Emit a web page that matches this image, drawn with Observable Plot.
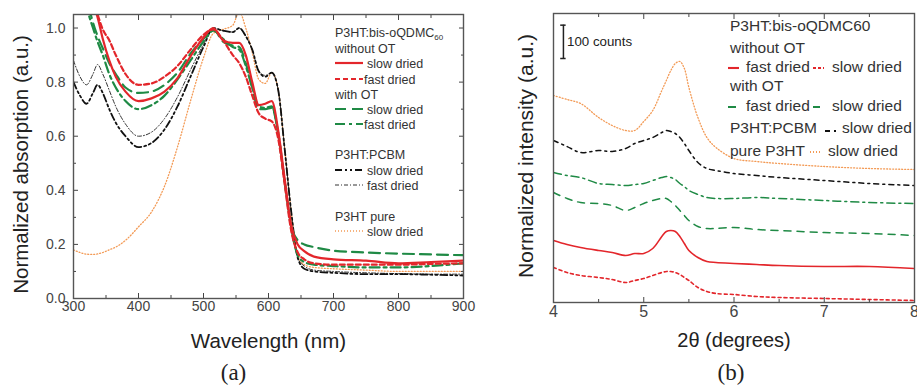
<!DOCTYPE html>
<html><head><meta charset="utf-8">
<script src="https://cdn.jsdelivr.net/npm/d3@7"></script>
<script src="https://cdn.jsdelivr.net/npm/@observablehq/plot@0.6"></script>
<style>
html,body{margin:0;padding:0;background:#fff;}
#wrap{position:relative;width:917px;height:391px;overflow:hidden;font-family:"Liberation Sans",Arial,sans-serif;}
#wrap > svg{position:absolute;top:0;}
</style></head><body><div id="wrap"></div>
<script>
// ---------- Panel (a): UV-vis absorption ----------
const wavelength = [300,310,320,330,337,345,355,365,380,400,420,440,460,480,500,515,530,545,555,565,575,585,595,605,615,625,635,645,655,670,700,750,800,850,900];
const absSlowNoOT = [1.40,1.30,1.18,1.09,1.04,0.96,0.88,0.82,0.765,0.73,0.74,0.765,0.815,0.895,0.965,1.0,0.955,0.945,0.945,0.90,0.80,0.715,0.72,0.73,0.62,0.44,0.27,0.20,0.175,0.155,0.145,0.14,0.13,0.135,0.14];
const absFastNoOT = [1.42,1.32,1.20,1.10,1.05,0.995,0.955,0.90,0.83,0.79,0.795,0.82,0.86,0.92,0.975,0.995,0.955,0.90,0.87,0.82,0.75,0.685,0.665,0.655,0.59,0.42,0.25,0.17,0.145,0.13,0.125,0.125,0.125,0.128,0.13];
const absSlowOT = [1.45,1.25,1.12,1.02,0.97,0.925,0.87,0.83,0.78,0.76,0.765,0.79,0.835,0.905,0.96,0.995,0.95,0.935,0.93,0.87,0.78,0.70,0.70,0.705,0.61,0.43,0.27,0.215,0.20,0.19,0.177,0.17,0.166,0.163,0.16];
const absFastOT = [1.40,1.20,1.08,1.0,0.95,0.90,0.83,0.78,0.73,0.70,0.715,0.75,0.81,0.88,0.95,0.99,0.96,0.93,0.92,0.86,0.78,0.71,0.705,0.71,0.61,0.43,0.26,0.16,0.135,0.125,0.12,0.115,0.115,0.12,0.13];
const absPCBMSlow = [0.80,0.75,0.72,0.76,0.79,0.76,0.70,0.65,0.60,0.56,0.575,0.625,0.71,0.82,0.93,1.0,0.99,0.985,1.0,0.97,0.92,0.84,0.82,0.835,0.77,0.55,0.32,0.15,0.11,0.10,0.095,0.09,0.09,0.088,0.085];
const absPCBMFast = [0.88,0.82,0.79,0.83,0.865,0.83,0.77,0.71,0.645,0.60,0.615,0.665,0.745,0.845,0.94,1.0,0.99,0.985,1.0,0.97,0.92,0.84,0.825,0.835,0.77,0.55,0.32,0.15,0.12,0.105,0.10,0.095,0.092,0.09,0.09];
const absPure = [0.18,0.17,0.164,0.163,0.165,0.17,0.18,0.19,0.215,0.265,0.32,0.415,0.56,0.73,0.89,0.98,0.995,1.01,1.06,1.0,0.91,0.81,0.795,0.835,0.77,0.55,0.32,0.16,0.125,0.115,0.11,0.105,0.10,0.10,0.10];
const xTicksA = [300,400,500,600,700,800,900];
const xMinorA = [350,450,550,650,750,850];
const yTicksA = [0,0.2,0.4,0.6,0.8,1.0];
const yMinorA = [0.1,0.3,0.5,0.7,0.9];

// ---------- Panel (b): XRD ----------
const twoTheta = [4.0,4.15,4.3,4.5,4.65,4.8,4.9,5.0,5.1,5.2,5.25,5.3,5.35,5.4,5.45,5.5,5.6,5.7,5.8,6.0,6.25,6.5,7.0,7.5,8.0];
const xrdPure = [621,609,597,555,531,516,516,543,576,636,666,696,717,723,702,645,555,495,465,432,423,417,408,402,399];
const xrdPCBM = [486,468,450,456,453,462,477,486,495,510,516,513,507,495,477,456,420,402,396,387,381,375,366,357,351];
const xrdOTfast = [390,381,375,357,354,351,354,357,366,375,378,375,369,357,348,336,324,315,312,312,315,312,306,300,297];
const xrdOTslow = [330,312,300,297,291,276,285,297,306,312,312,303,291,276,261,246,228,222,222,225,219,216,210,207,201];
const xrdNoOTfast = [186,174,165,156,150,141,147,147,162,198,213,216,213,198,177,156,135,123,120,117,114,111,108,108,102];
const xrdNoOTslow = [105,90,81,75,69,60,66,72,81,90,93,93,90,84,75,66,45,33,27,24,18,15,12,9,6];
const xTicksB = [4,5,6,7,8];
const xMinorB = [4.5,5.5,6.5,7.5];
const scaleBarX = [4.11];
const scaleBarY = [732, 832];
const scaleBarLabel = ["100 counts"];

const RED = "#e3262b", GREEN = "#1f8a45", BLACK = "#111", ORANGE = "#f39a55";
const FONT = "'Liberation Sans', Arial, sans-serif";

const seriesA = [
  {v: absPure, stroke: ORANGE, w: 1.3, dash: "1,2"},
  {v: absPCBMFast, stroke: "#333", w: 1.0, dash: "4,2,1,2"},
  {v: absPCBMSlow, stroke: BLACK, w: 1.8, dash: "7,3,2,3,2,3"},
  {v: absFastOT, stroke: GREEN, w: 2.2, dash: "10,4,3,4"},
  {v: absSlowOT, stroke: GREEN, w: 2.2, dash: "11,6"},
  {v: absFastNoOT, stroke: RED, w: 2.2, dash: "5,3"},
  {v: absSlowNoOT, stroke: RED, w: 2.2, dash: null}
];
const rowsA = v => wavelength.map((x, i) => ({x, y: v[i]}));

const empty = () => "";
const pa = Plot.plot({
  width: 480, height: 391,
  marginLeft: 73, marginRight: 17, marginTop: 14, marginBottom: 93,
  x: {domain: [300, 900], label: null},
  y: {domain: [0, 1.05], label: null},
  style: {fontFamily: FONT, background: "transparent", overflow: "visible"},
  marks: [
    ...seriesA.map(s => Plot.line(rowsA(s.v), {x: "x", y: "y", stroke: s.stroke, strokeWidth: s.w, strokeDasharray: s.dash, curve: "monotone-x", clip: true})),
    Plot.axisX({ticks: xTicksA, tickSize: -5, tickPadding: 8, fontSize: 14, color: "#444", tickFormat: d => d, label: null}),
    Plot.axisX({ticks: xMinorA, tickSize: -3, tickFormat: empty, color: "#444", label: null}),
    Plot.axisX({anchor: "top", ticks: xTicksA, tickSize: -5, tickFormat: empty, color: "#444", label: null}),
    Plot.axisX({anchor: "top", ticks: xMinorA, tickSize: -3, tickFormat: empty, color: "#444", label: null}),
    Plot.axisY({ticks: yTicksA, tickSize: -5, tickPadding: 13, fontSize: 14, color: "#444", tickFormat: d3.format(".1f"), label: null}),
    Plot.axisY({ticks: yMinorA, tickSize: -3, tickFormat: empty, color: "#444", label: null}),
    Plot.axisY({anchor: "right", ticks: yTicksA, tickSize: -5, tickFormat: empty, color: "#444", label: null}),
    Plot.axisY({anchor: "right", ticks: yMinorA, tickSize: -3, tickFormat: empty, color: "#444", label: null}),
    Plot.frame({stroke: "#555", strokeWidth: 1.4}),
    Plot.text(["Wavelength (nm)"], {text: d => d, frameAnchor: "bottom", textAnchor: "middle", lineAnchor: "top", dy: 35, fontSize: 20.5, fill: "#222"}),
    Plot.text(["Normalized absorption (a.u.)"], {text: d => d, frameAnchor: "left", textAnchor: "middle", rotate: -90, dx: -52, dy: 8, fontSize: 20.5, fill: "#222"}),
    Plot.text(["(a)"], {text: d => d, frameAnchor: "bottom", textAnchor: "middle", dx: -35, dy: 81, fontSize: 23, fontFamily: "'Liberation Serif', 'DejaVu Serif', serif", fill: "#222"})
  ]
});
pa.style.left = "0px";

const seriesB = [
  {v: xrdPure, stroke: ORANGE, w: 1.3, dash: "1,2"},
  {v: xrdPCBM, stroke: BLACK, w: 1.5, dash: "5,4,2,4"},
  {v: xrdOTfast, stroke: GREEN, w: 1.5, dash: "8,4,2,4"},
  {v: xrdOTslow, stroke: GREEN, w: 1.5, dash: "7,6"},
  {v: xrdNoOTfast, stroke: RED, w: 1.6, dash: null},
  {v: xrdNoOTslow, stroke: RED, w: 1.6, dash: "3,3"}
];
const rowsB = v => twoTheta.map((x, i) => ({x, y: v[i]}));

const pb = Plot.plot({
  width: 457, height: 391,
  marginLeft: 93, marginRight: 3, marginTop: 13, marginBottom: 89,
  x: {domain: [4, 8], label: null},
  y: {domain: [0, 867], label: null, axis: null},
  style: {fontFamily: FONT, background: "transparent", overflow: "visible"},
  marks: [
    ...seriesB.map(s => Plot.line(rowsB(s.v), {x: "x", y: "y", stroke: s.stroke, strokeWidth: s.w, strokeDasharray: s.dash, curve: "catmull-rom", clip: true})),
    Plot.ruleX(scaleBarX, {x: d => d, y1: scaleBarY[0], y2: scaleBarY[1], stroke: "#222", strokeWidth: 1.5}),
    Plot.ruleY(scaleBarY, {y: d => d, x1: scaleBarX[0] - 0.03, x2: scaleBarX[0] + 0.03, stroke: "#222", strokeWidth: 1.5}),
    Plot.text(scaleBarLabel, {text: d => d, x: scaleBarX[0] + 0.04, y: (scaleBarY[0] + scaleBarY[1]) / 2, textAnchor: "start", fontSize: 13.3, fill: "#222"}),
    Plot.axisX({ticks: xTicksB, tickSize: -5, tickPadding: 8, fontSize: 16, color: "#444", tickFormat: d => d, label: null}),
    Plot.axisX({ticks: xMinorB, tickSize: -3, tickFormat: empty, color: "#444", label: null}),
    Plot.axisX({anchor: "top", ticks: xTicksB, tickSize: -5, tickFormat: empty, color: "#444", label: null}),
    Plot.axisX({anchor: "top", ticks: xMinorB, tickSize: -3, tickFormat: empty, color: "#444", label: null}),
    Plot.frame({stroke: "#555", strokeWidth: 1.4}),
    Plot.text(["2θ (degrees)"], {text: d => d, frameAnchor: "bottom", textAnchor: "middle", lineAnchor: "top", dy: 30, fontSize: 20, fill: "#222"}),
    Plot.text(["Normalized intensity (a.u.)"], {text: d => d, frameAnchor: "left", textAnchor: "middle", rotate: -90, dx: -27, dy: -2, fontSize: 21, fill: "#222"}),
    Plot.text(["(b)"], {text: d => d, frameAnchor: "bottom", textAnchor: "middle", dx: -3, dy: 77, fontSize: 23, fontFamily: "'Liberation Serif', 'DejaVu Serif', serif", fill: "#222"})
  ]
});
pb.style.left = "460px";

const wrap = document.getElementById("wrap");
wrap.appendChild(pa);
wrap.appendChild(pb);

// ---------- Legends (overlay) ----------
const legendHeadsA = ["P3HT:bis-oQDMC", "without OT", "with OT", "P3HT:PCBM", "P3HT pure"];
const legendItemsA = ["slow dried", "fast dried", "slow dried", "fast dried", "slow dried", "fast dried", "slow dried"];
const legendHeadsB = ["P3HT:bis-oQDMC60", "without OT", "with OT", "P3HT:PCBM", "pure P3HT"];
const legendItemsB = ["fast dried", "slow dried", "fast dried", "slow dried", "slow dried", "slow dried"];

const ov = d3.create("svg").attr("width", 917).attr("height", 391)
  .style("left", "0px").style("font-family", FONT).style("pointer-events", "none");

// left legend
const gA = ov.append("g").attr("font-size", 12.5).attr("fill", "#333");
const headYA = [36.5, 52.5, 98.5, 158.5, 220.5];
legendHeadsA.forEach((t, i) => {
  const tx = gA.append("text").attr("x", 335).attr("y", headYA[i]).text(t);
  if (i === 0) tx.append("tspan").attr("font-size", 8).attr("dy", 3).text("60");
});
const itemYA = [63, 79, 109, 124, 170, 185, 231];
const itemXA = [367, 364, 367, 364, 367, 367, 367];
const itemStyleA = [seriesA[6], seriesA[5], seriesA[4], seriesA[3], seriesA[2], seriesA[1], seriesA[0]];
legendItemsA.forEach((t, i) => {
  const s = itemStyleA[i];
  gA.append("line").attr("x1", 335).attr("x2", 363).attr("y1", itemYA[i]).attr("y2", itemYA[i])
    .attr("stroke", s.stroke).attr("stroke-width", s.w).attr("stroke-dasharray", s.dash);
  gA.append("text").attr("x", itemXA[i]).attr("y", itemYA[i] + 4.5).text(t);
});

// right legend
const gB = ov.append("g").attr("font-size", 15.5).attr("fill", "#333");
const headYB = [30.5, 52.5, 90.5, 132.5, 155.5];
legendHeadsB.forEach((t, i) => {
  gB.append("text").attr("x", 730).attr("y", headYB[i]).text(t);
});
const itemB = [
  {s: seriesB[4], x1: 728, x2: 739, y: 68, tx: 746, ty: 71.5},
  {s: seriesB[5], x1: 813, x2: 824, y: 68, tx: 832, ty: 71.5},
  {s: seriesB[2], x1: 728, x2: 739, y: 107, tx: 746, ty: 110.5},
  {s: seriesB[3], x1: 813, x2: 824, y: 107, tx: 832, ty: 110.5},
  {s: seriesB[1], x1: 825, x2: 836, y: 131, tx: 842, ty: 132.5},
  {s: seriesB[0], x1: 810, x2: 822, y: 152, tx: 828, ty: 155.5}
];
legendItemsB.forEach((t, i) => {
  const it = itemB[i];
  gB.append("line").attr("x1", it.x1).attr("x2", it.x2).attr("y1", it.y).attr("y2", it.y)
    .attr("stroke", it.s.stroke).attr("stroke-width", it.s.w + 0.5).attr("stroke-dasharray", it.s.dash ? (i === 1 ? "3,2" : it.s.dash) : null);
  gB.append("text").attr("x", it.tx).attr("y", it.ty).text(t);
});
wrap.appendChild(ov.node());
</script></body></html>
